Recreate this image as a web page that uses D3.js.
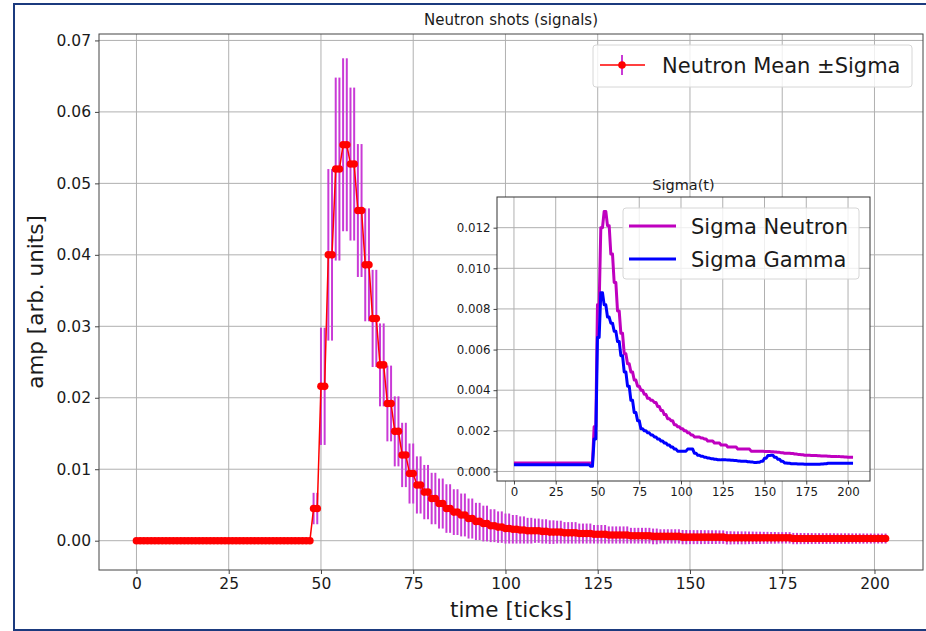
<!DOCTYPE html>
<html>
<head>
<meta charset="utf-8">
<script src="https://cdn.jsdelivr.net/npm/d3@7"></script>
<style>
  body { margin: 0; background: #fff; }
  text { font-family: "DejaVu Sans", sans-serif; fill: #1a1a1a; }
</style>
</head>
<body>
<script>
// every sample is held for two ticks: t = 2k and 2k+1
var meanNeutron = [
  0,0,0,0,0,0,0,0,0,0,0,0,0,0,0,0,0,0,0,0,0,0,0,0,
  0.0045,0.0216,0.0400,0.0520,0.0554,0.0527,0.0462,0.0386,0.0311,0.0246,
  0.0192,0.0153,0.0120,0.0094,0.0078,0.0068,0.0059,0.0052,0.0045,0.0040,
  0.0036,0.0031,0.0027,0.0024,0.0021,0.0019,0.0017,0.0016,0.0015,0.0014,
  0.0014,0.0013,0.0012,0.0012,0.0011,0.0011,0.0010,0.0010,0.0009,0.0009,
  0.0008,0.0008,0.0008,0.0007,0.0007,0.0007,0.0006,0.0006,0.0006,0.0006,
  0.0005,0.0005,0.0005,0.0005,0.0005,0.0005,0.0004,0.0004,0.0004,0.0004,
  0.0004,0.0004,0.0004,0.0004,0.0004,0.0003,0.0003,0.0003,0.0003,0.0003,
  0.0003,0.0003,0.0003,0.0003,0.0003,0.0003,0.0003,0.0003
];
var sigmaNeutron = [
  0.00042,0.00042,0.00042,0.00042,0.00042,0.00042,0.00042,0.00042,0.00042,0.00042,
  0.00042,0.00042,0.00042,0.00042,0.00042,0.00042,0.00042,0.00042,0.00042,0.00042,
  0.00042,0.00042,0.00042,0.00042,
  0.0022,0.0082,0.0120,0.0128,0.0121,0.0107,0.0093,0.0079,0.0068,0.0058,
  0.0053,0.0049,0.0045,0.0042,0.0040,0.0038,0.0036,0.0035,0.0034,0.0032,
  0.0030,0.0028,0.0026,0.0025,0.0023,0.0022,0.0021,0.0020,0.0019,0.0018,
  0.0017,0.0017,0.00165,0.0016,0.0015,0.0015,0.0014,0.0014,0.0013,0.0013,
  0.0012,0.0012,0.0012,0.0011,0.0011,0.0011,0.0011,0.0010,0.0010,0.0010,
  0.0010,0.00098,0.00098,0.00097,0.00096,0.00094,0.00092,0.0009,0.0009,0.00088,
  0.00086,0.00084,0.00082,0.0008,0.0008,0.00079,0.00078,0.00077,0.00076,0.00076,
  0.00075,0.00074,0.00074,0.00073,0.00072,0.00071,0.0007,0.0007
];
var sigmaGamma = [
  0.00033,0.00033,0.00033,0.00033,0.00033,0.00033,0.00033,0.00033,0.00033,0.00033,
  0.00033,0.00033,0.00033,0.00033,0.00033,0.00033,0.00033,0.00033,0.00033,0.00033,
  0.00033,0.00033,0.00033,0.00025,
  0.0016,0.0066,0.0088,0.0082,0.0076,0.0073,0.0069,0.0064,0.0057,0.0049,
  0.0042,0.0035,0.0029,0.0025,0.0021,0.0020,0.0019,0.0018,0.0017,0.0016,
  0.0015,0.0014,0.0013,0.0012,0.0011,0.0010,0.0010,0.0010,0.0011,0.0011,
  0.0009,0.0008,0.00075,0.0007,0.00066,0.00063,0.0006,0.00058,0.00057,0.00057,
  0.00056,0.00055,0.00054,0.00052,0.0005,0.0005,0.00048,0.00046,0.00044,0.00045,
  0.0005,0.00065,0.00078,0.0008,0.0007,0.0006,0.0005,0.00042,0.0004,0.00038,
  0.00038,0.00037,0.00037,0.00036,0.00036,0.00036,0.00036,0.00036,0.00037,0.00038,
  0.0004,0.0004,0.0004,0.0004,0.0004,0.0004,0.0004,0.0004
];
var xTicks = [0, 25, 50, 75, 100, 125, 150, 175, 200];
var yTicks = [0, 0.01, 0.02, 0.03, 0.04, 0.05, 0.06, 0.07];
var insetYTicks = [0, 0.002, 0.004, 0.006, 0.008, 0.010, 0.012];

var data = [];
meanNeutron.forEach(function(m, k) {
    [2 * k, 2 * k + 1].forEach(function(t) {
        data.push({ t: t, mean: m, sn: sigmaNeutron[k], sg: sigmaGamma[k] });
    });
});

var W = 926, H = 631;
var svg = d3.select('body').append('svg')
    .attr('width', W)
    .attr('height', H);

// outer frame
svg.append('rect')
    .attr('x', 14).attr('y', 4)
    .attr('width', 940).attr('height', 626)
    .attr('fill', 'none')
    .attr('stroke', '#1b3a7e')
    .attr('stroke-width', 2);

// ---- main axes ----
var box = { left: 99, right: 923, top: 34, bottom: 570 };
var x = d3.scaleLinear().domain([-10.15, 213.15]).range([box.left, box.right]);
var y = d3.scaleLinear().domain([-0.0041, 0.0709]).range([box.bottom, box.top]);

svg.append('clipPath').attr('id', 'mainclip')
    .append('rect')
    .attr('x', box.left).attr('y', box.top)
    .attr('width', box.right - box.left).attr('height', box.bottom - box.top);

var grid = svg.append('g').attr('stroke', '#b0b0b0').attr('stroke-width', 1);
xTicks.forEach(function(t) {
    grid.append('line').attr('x1', x(t)).attr('x2', x(t)).attr('y1', box.top).attr('y2', box.bottom);
});
yTicks.forEach(function(v) {
    grid.append('line').attr('x1', box.left).attr('x2', box.right).attr('y1', y(v)).attr('y2', y(v));
});

var plot = svg.append('g').attr('clip-path', 'url(#mainclip)');

// error bars
plot.selectAll('.ebar').data(data).enter().append('line')
    .attr('class', 'ebar')
    .attr('x1', function(d) { return x(d.t); })
    .attr('x2', function(d) { return x(d.t); })
    .attr('y1', function(d) { return y(d.mean - d.sn); })
    .attr('y2', function(d) { return y(d.mean + d.sn); })
    .attr('stroke', '#c93ad6')
    .attr('stroke-width', 2);

// mean line + markers
plot.append('path')
    .datum(data)
    .attr('fill', 'none')
    .attr('stroke', '#ff0000')
    .attr('stroke-width', 1.5)
    .attr('d', d3.line().x(function(d) { return x(d.t); }).y(function(d) { return y(d.mean); }));

plot.selectAll('.dot').data(data).enter().append('circle')
    .attr('class', 'dot')
    .attr('cx', function(d) { return x(d.t); })
    .attr('cy', function(d) { return y(d.mean); })
    .attr('r', 3.8)
    .attr('fill', '#ff0000');

// axes
var xAxis = svg.append('g')
    .attr('transform', 'translate(0,' + box.bottom + ')')
    .call(d3.axisBottom(x).tickValues(xTicks).tickSize(4).tickPadding(4).tickSizeOuter(0));
var yAxis = svg.append('g')
    .attr('transform', 'translate(' + box.left + ',0)')
    .call(d3.axisLeft(y).tickValues(yTicks).tickFormat(d3.format('.2f')).tickSize(4).tickPadding(4).tickSizeOuter(0));
[xAxis, yAxis].forEach(function(a) {
    a.selectAll('.domain').remove();
    a.selectAll('.tick line').attr('stroke', '#444');
    a.selectAll('.tick text').style('font-size', '15.5px').attr('fill', '#1a1a1a');
});

svg.append('rect')
    .attr('x', box.left).attr('y', box.top)
    .attr('width', box.right - box.left).attr('height', box.bottom - box.top)
    .attr('fill', 'none').attr('stroke', '#444').attr('stroke-width', 1);

svg.append('text')
    .attr('x', (box.left + box.right) / 2).attr('y', 25)
    .attr('text-anchor', 'middle')
    .style('font-size', '15px')
    .text('Neutron shots (signals)');

svg.append('text')
    .attr('x', (box.left + box.right) / 2).attr('y', 617)
    .attr('text-anchor', 'middle')
    .style('font-size', '21.5px')
    .text('time [ticks]');

svg.append('text')
    .attr('transform', 'translate(43,' + (box.top + box.bottom) / 2 + ') rotate(-90)')
    .attr('text-anchor', 'middle')
    .style('font-size', '21.5px')
    .text('amp [arb. units]');

// main legend
var lg = svg.append('g');
lg.append('rect')
    .attr('x', 593).attr('y', 45).attr('width', 319).attr('height', 42)
    .attr('rx', 3)
    .attr('fill', 'rgba(255,255,255,0.8)')
    .attr('stroke', '#d6d6d6');
lg.append('line').attr('x1', 600).attr('x2', 645).attr('y1', 65).attr('y2', 65)
    .attr('stroke', '#ff0000').attr('stroke-width', 1.5);
lg.append('line').attr('x1', 622).attr('x2', 622).attr('y1', 55).attr('y2', 75)
    .attr('stroke', '#c93ad6').attr('stroke-width', 2);
lg.append('circle').attr('cx', 622).attr('cy', 65).attr('r', 3.8).attr('fill', '#ff0000');
lg.append('text').attr('x', 662).attr('y', 73)
    .style('font-size', '21px')
    .text('Neutron Mean \u00b1Sigma');

// ---- inset axes ----
var ib = { left: 497, right: 870, top: 197, bottom: 481 };
var xi = d3.scaleLinear().domain([-10.15, 213.15]).range([ib.left, ib.right]);
var yi = d3.scaleLinear().domain([-0.00047, 0.01351]).range([ib.bottom, ib.top]);

svg.append('rect')
    .attr('x', ib.left).attr('y', ib.top)
    .attr('width', ib.right - ib.left).attr('height', ib.bottom - ib.top)
    .attr('fill', '#fff');

var igrid = svg.append('g').attr('stroke', '#b0b0b0').attr('stroke-width', 1);
xTicks.forEach(function(t) {
    igrid.append('line').attr('x1', xi(t)).attr('x2', xi(t)).attr('y1', ib.top).attr('y2', ib.bottom);
});
insetYTicks.forEach(function(v) {
    igrid.append('line').attr('x1', ib.left).attr('x2', ib.right).attr('y1', yi(v)).attr('y2', yi(v));
});

var lineN = d3.line().x(function(d) { return xi(d.t); }).y(function(d) { return yi(d.sn); });
var lineG = d3.line().x(function(d) { return xi(d.t); }).y(function(d) { return yi(d.sg); });
svg.append('path').datum(data).attr('fill', 'none')
    .attr('stroke', '#bf00bf').attr('stroke-width', 3).attr('stroke-linejoin', 'round')
    .attr('d', lineN);
svg.append('path').datum(data).attr('fill', 'none')
    .attr('stroke', '#0000ff').attr('stroke-width', 3).attr('stroke-linejoin', 'round')
    .attr('d', lineG);

var xiAxis = svg.append('g')
    .attr('transform', 'translate(0,' + ib.bottom + ')')
    .call(d3.axisBottom(xi).tickValues(xTicks).tickSize(3.5).tickPadding(3).tickSizeOuter(0));
var yiAxis = svg.append('g')
    .attr('transform', 'translate(' + ib.left + ',0)')
    .call(d3.axisLeft(yi).tickValues(insetYTicks).tickFormat(d3.format('.3f')).tickSize(3.5).tickPadding(3).tickSizeOuter(0));
[xiAxis, yiAxis].forEach(function(a) {
    a.selectAll('.domain').remove();
    a.selectAll('.tick line').attr('stroke', '#444');
    a.selectAll('.tick text').style('font-size', '11.8px').attr('fill', '#1a1a1a');
});

svg.append('rect')
    .attr('x', ib.left).attr('y', ib.top)
    .attr('width', ib.right - ib.left).attr('height', ib.bottom - ib.top)
    .attr('fill', 'none').attr('stroke', '#333').attr('stroke-width', 1);

svg.append('text')
    .attr('x', (ib.left + ib.right) / 2).attr('y', 190)
    .attr('text-anchor', 'middle')
    .style('font-size', '14.5px')
    .text('Sigma(t)');

// inset legend
var il = svg.append('g');
il.append('rect')
    .attr('x', 623).attr('y', 208).attr('width', 236).attr('height', 71)
    .attr('rx', 3)
    .attr('fill', 'rgba(255,255,255,0.8)')
    .attr('stroke', '#d6d6d6');
var insetSeries = [
    { name: 'Sigma Neutron', color: '#bf00bf', yy: 226 },
    { name: 'Sigma Gamma', color: '#0000ff', yy: 259 }
];
insetSeries.forEach(function(s) {
    il.append('line').attr('x1', 629).attr('x2', 676).attr('y1', s.yy).attr('y2', s.yy)
        .attr('stroke', s.color).attr('stroke-width', 3);
    il.append('text').attr('x', 691).attr('y', s.yy + 7.5)
        .style('font-size', '21px')
        .text(s.name);
});
</script>
</body>
</html>
